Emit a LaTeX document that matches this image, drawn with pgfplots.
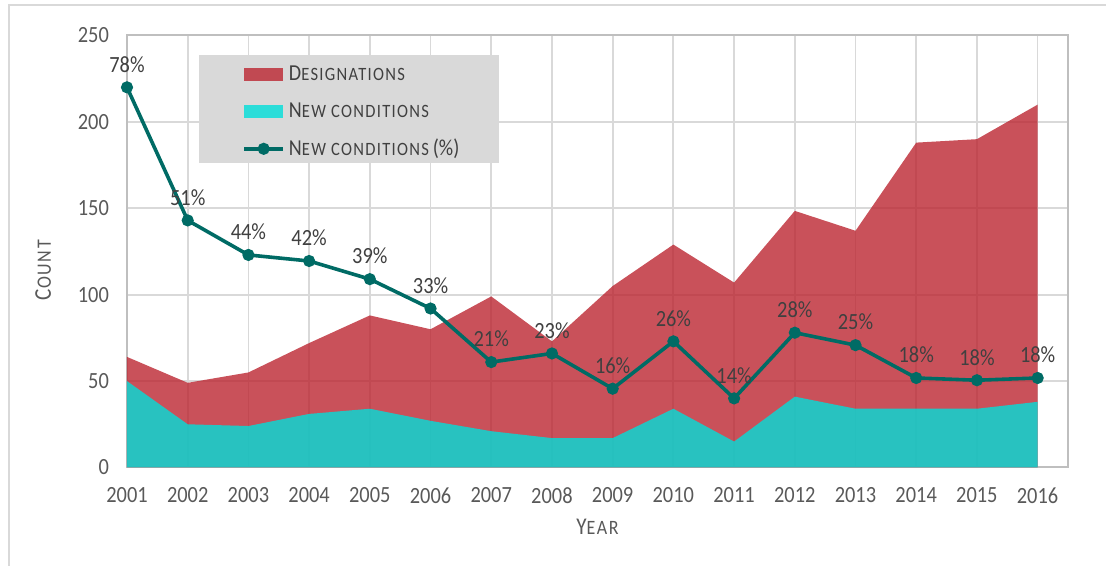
\documentclass[border=0pt]{standalone}
\usepackage{fontspec}
\setmainfont[FakeStretch=0.88]{Carlito}
\usepackage{pgfplots}
\pgfplotsset{compat=1.18}
\definecolor{desig}{RGB}{188,38,49}
\definecolor{newc}{RGB}{0,222,218}
\definecolor{lineteal}{RGB}{0,107,101}
\definecolor{gridgray}{RGB}{217,217,217}
\definecolor{axgray}{RGB}{191,191,191}
\definecolor{txtgray}{RGB}{89,89,89}
\definecolor{lblgray}{RGB}{64,64,64}
\definecolor{leggray}{RGB}{217,217,217}
\newcommand\fsc[2]{{\addfontfeatures{LetterSpace=7}#1{\fontsize{9.4}{10}\selectfont\MakeUppercase{#2}}}}
\newcommand\fscl[2]{{\addfontfeatures{LetterSpace=8}#1{\fontsize{10.2}{11}\selectfont\MakeUppercase{#2}}}}
\begin{document}
\begin{tikzpicture}[x=1pt,y=1pt]
\path[use as bounding box] (0,0) rectangle (553,283);
\draw[gridgray, line width=1pt] (4.5,0) -- (4.5,280.5) -- (553,280.5);
\begin{axis}[
  at={(63.5pt,49.25pt)}, anchor=south west,
  scale only axis, width=470.5pt, height=216pt,
  xmin=2001, xmax=2016.5, ymin=0, ymax=250,
  xtick={2001,2002,...,2016}, ytick={0,50,...,250},
  /pgf/number format/assume math mode=true,
  /pgf/number format/1000 sep={},
  grid=major, major grid style={gridgray, line width=0.9pt},
  axis line style={axgray, line width=1pt},
  tick align=inside, major tick length=2.5pt,
  xtick style={gridgray, line width=0.9pt}, ytick style={draw=none},
  ticklabel style={font=\fontsize{11.6}{13}\selectfont, text=txtgray},
  yticklabel style={xshift=-5.5pt},
  xticklabel style={yshift=-6.5pt},
  xlabel={\fscl{Y}{ear}}, ylabel={\fscl{C}{ount}},
  label style={font=\fontsize{12}{13}\selectfont, text=txtgray},
  xlabel style={at={(axis description cs:0.5,-0.138)}, anchor=center},
  ylabel style={at={(axis description cs:-0.089,0.457)}, anchor=center, rotate=0},
  legend style={at={(axis description cs:0.1222,0.822)}, anchor=west, draw=none, fill=none,
     inner sep=0pt, row sep=5.4pt, font=\fontsize{11.4}{12}\selectfont, text=lblgray,
     cells={anchor=west}},
]
\addplot[draw=none, fill=desig, fill opacity=0.8,
  legend image code/.code={\fill[desig, fill opacity=0.8] (0pt,-3.25pt) rectangle (19.5pt,3.25pt);}]
  coordinates {(2001,64) (2002,49) (2003,55) (2004,72) (2005,88) (2006,80) (2007,99) (2008,73)
  (2009,105) (2010,129) (2011,107) (2012,148.5) (2013,137) (2014,188) (2015,190) (2016,210)} \closedcycle;
\addlegendentry{\fsc{D}{esignations}}
\addplot[draw=none, fill=newc, fill opacity=0.8,
  legend image code/.code={\fill[newc, fill opacity=0.8] (0pt,-3.25pt) rectangle (19.5pt,3.25pt);}]
  coordinates {(2001,50) (2002,25) (2003,24) (2004,31) (2005,34) (2006,27) (2007,21) (2008,17)
  (2009,17) (2010,34) (2011,15) (2012,41) (2013,34) (2014,34) (2015,34) (2016,38)} \closedcycle;
\addlegendentry{\fsc{N}{ew conditions}}
\addplot[lineteal, line width=1.8pt, mark=*, mark size=2.1pt, mark options={fill=lineteal, draw=lineteal},
  point meta=explicit,
  nodes near coords={\pgfmathprintnumber{\pgfplotspointmeta}\%},
  every node near coord/.append style={font=\fontsize{11.6}{13}\selectfont, text=lblgray, anchor=center, yshift=11.5pt},
  legend image code/.code={\draw[lineteal, line width=1.8pt] (0pt,0pt) -- (19.5pt,0pt);
     \fill[lineteal] (9.75pt,0pt) circle (2.1pt);}]
  table[x=x, y=y, meta=p] {
x y p
2001 220 78
2002 143 51
2003 123 44
2004 119.5 42
2005 109 39
2006 92 33
2007 61 21
2008 66 23
2009 45.6 16
2010 73 26
2011 40 14
2012 78 28
2013 70.8 25
2014 51.8 18
2015 50.5 18
2016 51.8 18
};
\addlegendentry{\fsc{N}{ew conditions}\,(\%)}
\fill[leggray] (axis description cs:0.0765,0.955) rectangle (axis description cs:0.3953,0.705);
\end{axis}
\end{tikzpicture}
\end{document}
